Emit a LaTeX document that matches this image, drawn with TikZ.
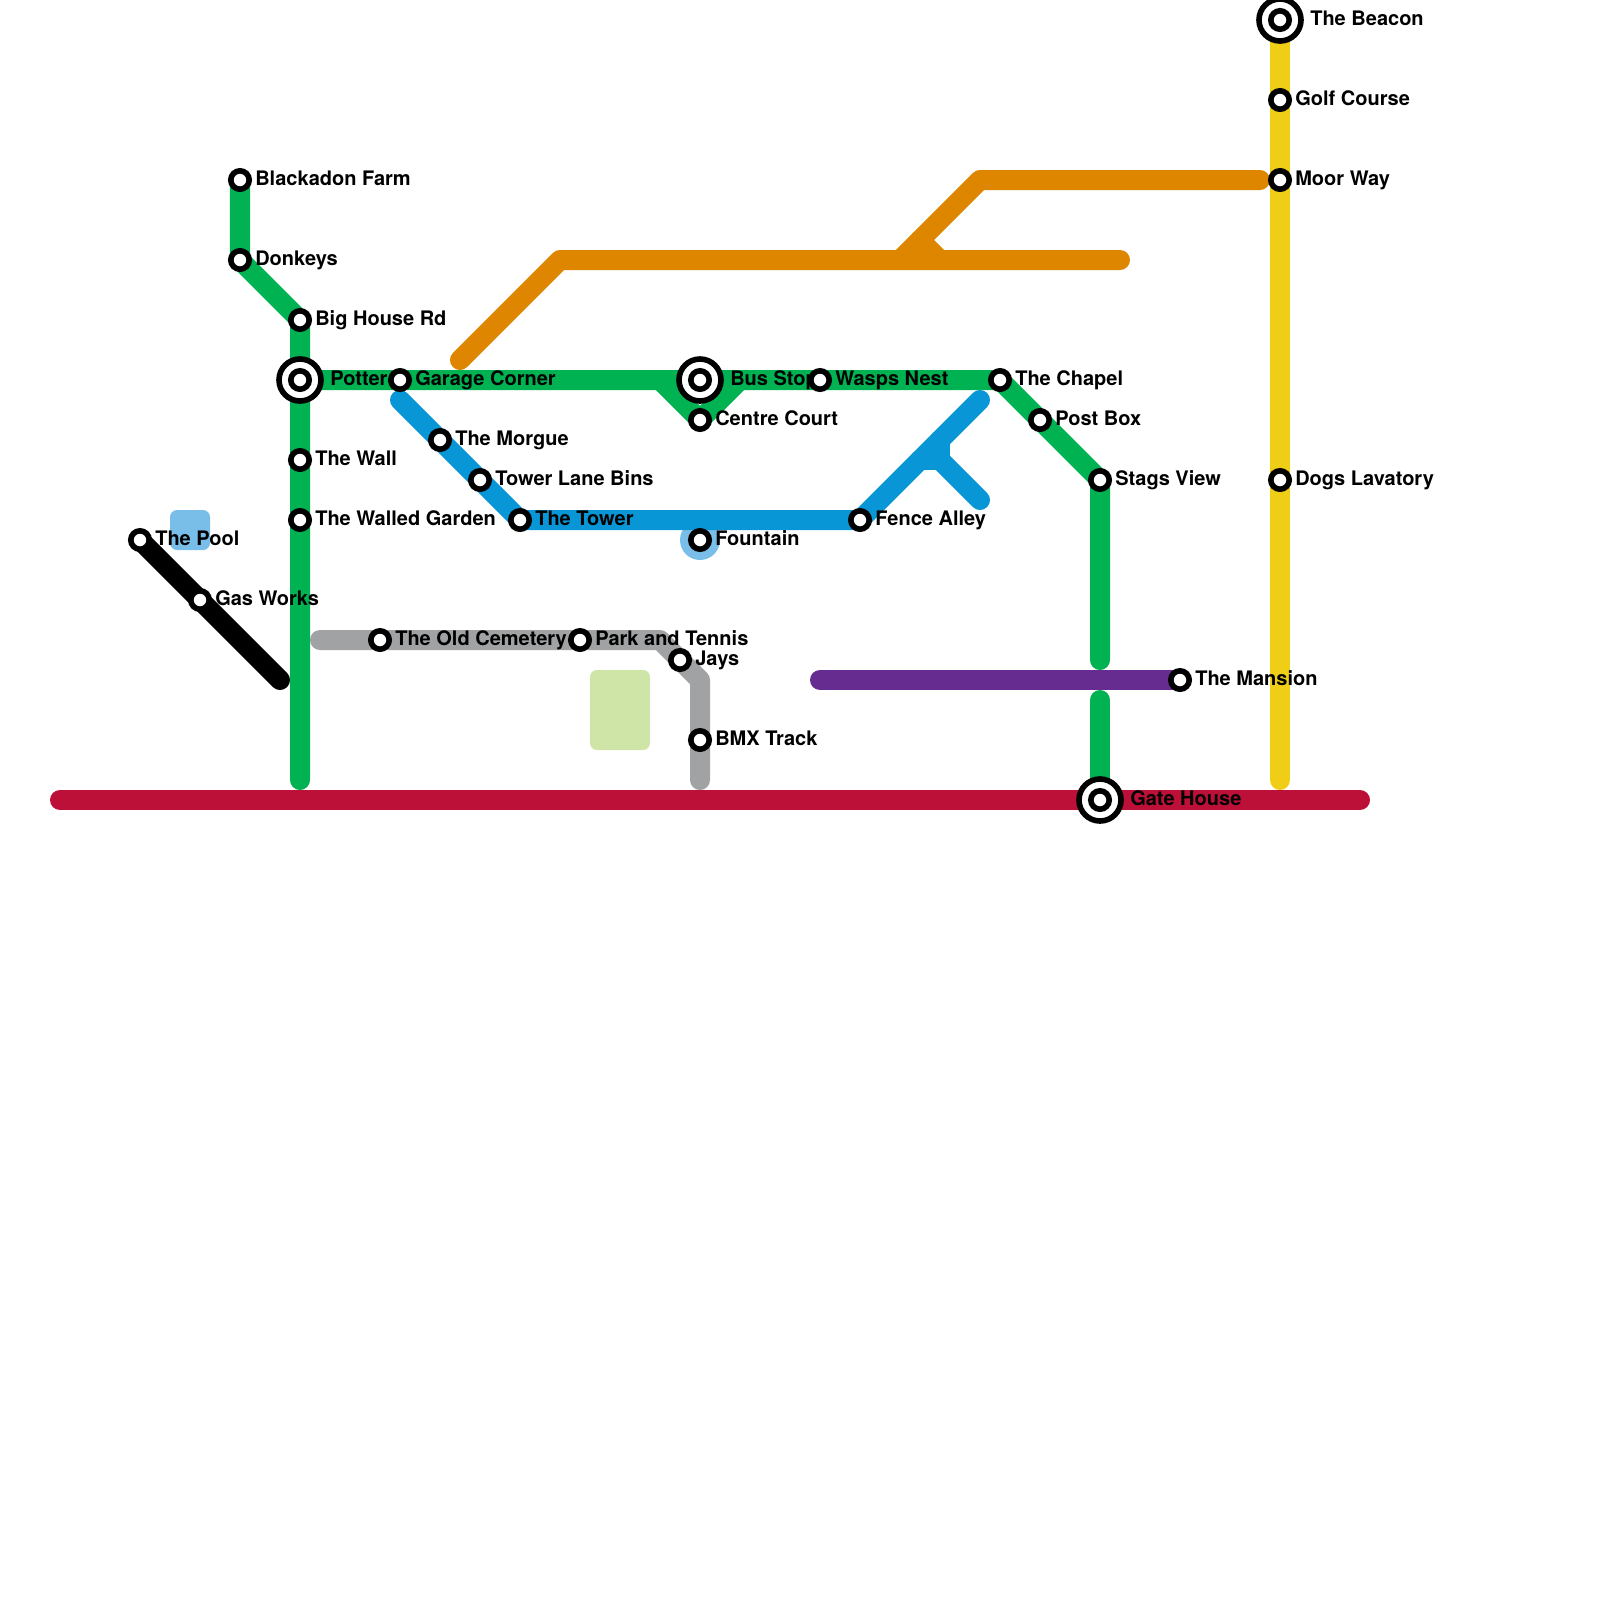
\documentclass[tikz,border=0pt]{standalone}
\usepackage{fontspec}
\setmainfont{TeX Gyre Heros}
\usepackage{tikz}
\definecolor{mapgreen}{HTML}{00B251}
\definecolor{mapblue}{HTML}{0896D7}
\definecolor{maporange}{HTML}{DF8600}
\definecolor{mapgray}{HTML}{A1A2A3}
\definecolor{mapred}{HTML}{BD1038}
\definecolor{mappurple}{HTML}{662C90}
\definecolor{mapyellow}{HTML}{F0CE15}
\definecolor{mapwater}{HTML}{79BDE9}
\definecolor{mappark}{HTML}{CFE4A7}
\pgfdeclarelayer{linelayer}
\pgfdeclarelayer{labellayer}
\pgfsetlayers{linelayer,labellayer,main}
\tikzset{
  mapline/.style={draw=#1, line width=0.5cm, line cap=round, line join=round},
  stnode/.style={
    circle, draw=black, fill=white, line width=0.14cm,
    minimum size=0.46cm, inner sep=0pt, outer sep=0pt
  },
  hubring/.style={
    circle, draw=black, fill=white, line width=0.14cm,
    minimum size=1.05cm, inner sep=0pt, outer sep=0pt
  },
  stlabel/.style={
    anchor=base west, inner sep=0pt, text=black,
    font=\fontsize{14.23}{16}\selectfont\bfseries
  }
}

\begin{document}
\begin{tikzpicture}[x=0.025cm, y=-0.025cm]
  \useasboundingbox (0,0) rectangle (1600,1600);

  \foreach \id/\x/\y/\txt in {
      potter/300/380/Potter, busstop/700/380/Bus Stop,
      gatehouse/1100/800/Gate House, beacon/1280/20/The Beacon} {
    \node[hubring] (\id ring) at (\x,\y) {};
    \node[stnode] (\id) at (\x,\y) {};
    \begin{pgfonlayer}{labellayer}
      \node[stlabel] (\id label) at (\x+30,\y+5) {\txt};
    \end{pgfonlayer}
  }
  \foreach \id/\x/\y/\txt in {
      blackadon/240/180/Blackadon Farm, donkeys/240/260/Donkeys,
      bighouse/300/320/Big House Rd, thewall/300/460/The Wall,
      walled/300/520/The Walled Garden, garage/400/380/Garage Corner,
      morgue/440/440/The Morgue, towerbins/480/480/Tower Lane Bins,
      tower/520/520/The Tower, centrecourt/700/420/Centre Court,
      wasps/820/380/Wasps Nest, chapel/1000/380/The Chapel,
      postbox/1040/420/Post Box, stags/1100/480/Stags View,
      fountain/700/540/Fountain, fence/860/520/Fence Alley,
      pool/140/540/The Pool, gasworks/200/600/Gas Works,
      cemetery/380/640/The Old Cemetery, tennis/580/640/Park and Tennis,
      jays/680/660/Jays, bmx/700/740/BMX Track,
      mansion/1180/680/The Mansion, golf/1280/100/Golf Course,
      moorway/1280/180/Moor Way, lavatory/1280/480/Dogs Lavatory} {
    \node[stnode] (\id) at (\x,\y) {};
    \begin{pgfonlayer}{labellayer}
      \node[stlabel] (\id label) at (\x+15,\y+5) {\txt};
    \end{pgfonlayer}
  }

  \coordinate (greenend) at (300,780);
  \coordinate (greenl)   at (660,380);
  \coordinate (greenr)   at (740,380);
  \coordinate (greenup)  at (1100,660);
  \coordinate (greendn)  at (1100,700);
  \coordinate (bluetop)  at (400,400);
  \coordinate (bluefork) at (940,460);
  \coordinate (bluea)    at (980,400);
  \coordinate (blueb)    at (980,500);
  \coordinate (bluec)    at (940,440);
  \coordinate (blued)    at (920,460);
  \coordinate (orstart)  at (460,360);
  \coordinate (orbend)   at (560,260);
  \coordinate (orend)    at (1120,260);
  \coordinate (orfork)   at (900,260);
  \coordinate (ortop)    at (980,180);
  \coordinate (orright)  at (1260,180);
  \coordinate (orstuba)  at (920,240);
  \coordinate (orstubb)  at (940,260);
  \coordinate (graystart) at (320,640);
  \coordinate (graybenda) at (660,640);
  \coordinate (graybendb) at (700,680);
  \coordinate (grayend)  at (700,780);
  \coordinate (blackend) at (280,680);
  \coordinate (redstart) at (60,800);
  \coordinate (redend)   at (1360,800);
  \coordinate (purplestart) at (820,680);
  \coordinate (yellowend) at (1280,780);

  \begin{pgfonlayer}{linelayer}
    \fill[mapwater, rounded corners=0.175cm] (170,510) rectangle (210,550);
    \fill[mappark, rounded corners=0.175cm] (590,670) rectangle (650,750);
    \fill[mapwater] (fountain.center) circle (20);

    \draw[mapline=mapyellow] (beacon.center) -- (yellowend);
    \draw[mapline=mapred] (redstart) -- (redend);
    \draw[mapline=black] (pool.center) -- (blackend);
    \draw[mapline=mapgray] (graystart) -- (graybenda) -- (graybendb) -- (grayend);
    \draw[mapline=maporange] (orstart) -- (orbend) -- (orend);
    \draw[mapline=maporange] (orfork) -- (ortop) -- (orright);
    \draw[mapline=maporange] (orstuba) -- (orstubb);
    \draw[mapline=mapblue] (bluetop) -- (tower.center) -- (fence.center) -- (bluea);
    \draw[mapline=mapblue] (bluec) -- (bluefork) -- (blued);
    \draw[mapline=mapblue] (bluefork) -- (blueb);
    \draw[mapline=mapgreen] (blackadon.center) -- (donkeys.center)
      -- (bighouse.center) -- (greenend);
    \draw[mapline=mapgreen] (potter.center) -- (chapel.center)
      -- (stags.center) -- (greenup);
    \draw[mapline=mapgreen] (greenl) -- (centrecourt.center) -- (greenr);
    \draw[mapline=mapgreen] (greendn) -- (gatehouse.center);
    \draw[mapline=mappurple] (purplestart) -- (mansion.center);
  \end{pgfonlayer}
\end{tikzpicture}
\end{document}
